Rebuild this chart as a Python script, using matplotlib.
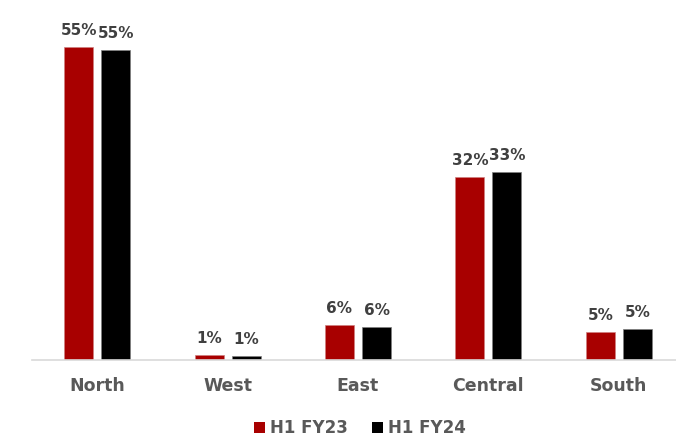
import numpy as np
import matplotlib
matplotlib.use("Agg")
import matplotlib.pyplot as plt
from matplotlib.patches import Patch

# Regional share, first half of each fiscal year (%)
regions = ["North", "West", "East", "Central", "South"]
fy23 = [55.3, 0.9, 6.2, 32.3, 4.9]
fy24 = [54.8, 0.7, 5.8, 33.2, 5.4]
series_names = ["H1 FY23", "H1 FY24"]

RED = "#A80000"
BLACK = "#000000"
LABEL_GREY = "#404040"
TEXT_GREY = "#595959"

plt.rcParams['font.family'] = ['DejaVu Sans']

fig = plt.figure(figsize=(6.76, 4.42), dpi=100)
ax = fig.add_axes([32 / 676, 82 / 442, 652 / 676, 350 / 442])

x = np.arange(len(regions))
w = 0.223
off = 0.142

bars23 = ax.bar(x - off, fy23, w, color=RED, edgecolor="#d08080", linewidth=0.5)
bars24 = ax.bar(x + off, fy24, w, color=BLACK, edgecolor="#808080", linewidth=0.5)

for bars in (bars23, bars24):
    for b in bars:
        h = b.get_height()
        ax.annotate(f"{h:.0f}%", (b.get_x() + b.get_width() / 2, h),
                    xytext=(0, 6.5), textcoords="offset points",
                    ha="center", va="bottom", fontsize=11, fontweight="bold",
                    color=LABEL_GREY)

ax.set_xlim(-0.5, 4.5)
ax.set_ylim(0, 61.8)
ax.set_xticks(x)
ax.set_xticklabels(regions, fontsize=12.5, fontweight="bold", color=TEXT_GREY)
ax.tick_params(axis="x", length=0, pad=12)
ax.set_yticks([])
for side in ("top", "right", "left"):
    ax.spines[side].set_visible(False)
ax.spines["bottom"].set_color("#d9d9d9")
ax.spines["bottom"].set_linewidth(1.2)

handles = [Patch(facecolor=RED), Patch(facecolor=BLACK)]
leg = fig.legend(handles, series_names, loc="center",
                 bbox_to_anchor=(360 / 676, 1 - 428 / 442),
                 ncol=2, frameon=False, handlelength=0.65, handleheight=0.65,
                 handletextpad=0.35, columnspacing=1.4,
                 prop={"size": 12, "weight": "bold"})
for t in leg.get_texts():
    t.set_color(TEXT_GREY)

fig.savefig("out.png", dpi=100)
